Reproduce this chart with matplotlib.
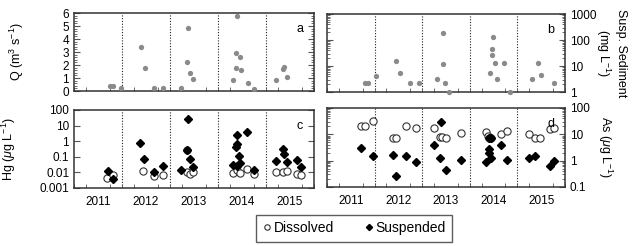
import matplotlib
matplotlib.use('Agg')
import matplotlib.pyplot as plt
import numpy as np
from matplotlib.ticker import MultipleLocator, FixedLocator, NullFormatter

plt.rcParams['font.family'] = ['Liberation Sans', 'DejaVu Sans']
plt.rcParams['mathtext.fontset'] = 'custom'
plt.rcParams['mathtext.rm'] = 'Liberation Sans'
plt.rcParams['mathtext.it'] = 'Liberation Sans:italic'
plt.rcParams['font.size'] = 8.5

# --- data (decimal year, value) ---
years = [2011, 2012, 2013, 2014, 2015]
year_labels = ['2011', '2012', '2013', '2014', '2015']

q_t = [2011.74, 2011.81, 2011.97, 2012.39, 2012.47, 2012.67, 2012.86, 2013.24, 2013.37, 2013.35,
       2013.42, 2013.49, 2014.40, 2014.38, 2014.46, 2014.38, 2014.49, 2014.32, 2014.62, 2014.76,
       2015.21, 2015.35, 2015.38, 2015.44]
q_v = [0.35, 0.35, 0.2, 3.4, 1.8, 0.25, 0.2, 0.2, 4.85, 2.2,
       1.4, 0.9, 5.8, 2.9, 2.65, 1.8, 1.65, 0.85, 0.6, 0.15,
       0.85, 1.7, 1.85, 1.1]

ss_t = [2011.79, 2011.86, 2012.02, 2012.46, 2012.53, 2012.74, 2012.93, 2013.32, 2013.44, 2013.44,
        2013.48, 2013.56, 2014.49, 2014.47, 2014.47, 2014.54, 2014.72, 2014.42, 2014.58, 2014.85,
        2015.31, 2015.44, 2015.49, 2015.76]
ss_v = [2.2, 2.2, 4.2, 16, 5.2, 2.2, 2.2, 3.3, 185, 12,
        2.2, 1.0, 125, 46, 27, 12.5, 13.5, 5.2, 3.3, 1.0,
        3.3, 12.5, 4.5, 2.2]

hg_diss_t = [2011.68, 2011.81, 2012.44, 2012.67, 2012.86, 2013.36, 2013.35, 2013.42, 2013.49,
             2014.32, 2014.40, 2014.47, 2014.61, 2014.75,
             2015.21, 2015.36, 2015.43, 2015.65, 2015.74]
hg_diss_v = [0.0043, 0.007, 0.012, 0.0055, 0.007, 0.29, 0.011, 0.008, 0.01,
             0.0097, 0.014, 0.0097, 0.017, 0.0073,
             0.011, 0.011, 0.012, 0.0078, 0.0063]
hg_susp_t = [2011.71, 2011.81, 2012.375, 2012.46, 2012.67, 2012.86,
             2013.24, 2013.37, 2013.36, 2013.42, 2013.49,
             2014.40, 2014.39, 2014.38, 2014.44, 2014.47, 2014.32, 2014.40, 2014.61, 2014.75,
             2015.21, 2015.35, 2015.375, 2015.43, 2015.65, 2015.74]
hg_susp_v = [0.012, 0.0037, 0.75, 0.07, 0.011, 0.026,
             0.014, 26, 0.29, 0.07, 0.023,
             2.5, 0.62, 0.45, 0.115, 0.042, 0.03, 0.026, 3.7, 0.014,
             0.055, 0.33, 0.16, 0.047, 0.06, 0.021]

as_diss_t = [2011.71, 2011.79, 2011.97, 2012.39, 2012.46, 2012.67, 2012.86,
             2013.25, 2013.37, 2013.42, 2013.50, 2013.82,
             2014.35, 2014.38, 2014.40, 2014.45, 2014.65, 2014.78,
             2015.24, 2015.38, 2015.47, 2015.69, 2015.78]
as_diss_v = [21, 21, 33, 7.5, 7.5, 20, 18,
             18, 8, 8, 7.5, 11.7,
             12.4, 9, 7, 7, 10.7, 13.5,
             10.7, 7, 7.5, 15.8, 17]
as_susp_t = [2011.71, 2011.97, 2012.39, 2012.46, 2012.67, 2012.86,
             2013.25, 2013.39, 2013.37, 2013.50, 2013.82,
             2014.35, 2014.40, 2014.44, 2014.40, 2014.41, 2014.45, 2014.65, 2014.78,
             2015.24, 2015.38, 2015.69, 2015.78]
as_susp_v = [3.1, 1.45, 1.7, 0.26, 1.55, 0.85,
             4.1, 29, 1.25, 0.45, 1.1,
             0.85, 7.5, 7, 2.8, 1.95, 1.25, 3.8, 1.1,
             1.25, 1.45, 0.6, 0.93]

fig = plt.figure(figsize=(6.38, 2.46), dpi=100)
ax_a = fig.add_axes([0.116, 0.630, 0.376, 0.317])
ax_c = fig.add_axes([0.116, 0.236, 0.376, 0.317])
ax_b = fig.add_axes([0.5125, 0.626, 0.373, 0.317])
ax_d = fig.add_axes([0.5125, 0.240, 0.373, 0.321])

gray = '#8a8a8a'


def style_x(ax, show_labels):
    ax.set_xlim(2011.0, 2016.0)
    ax.xaxis.set_major_locator(FixedLocator([y + 0.5 for y in years]))
    ax.xaxis.set_minor_locator(MultipleLocator(0.25))
    ax.tick_params(axis='x', which='major', length=0, pad=6)
    ax.tick_params(axis='x', which='minor', length=3, direction='in', color='#555555')
    if show_labels:
        ax.set_xticklabels(year_labels)
    else:
        ax.set_xticklabels([])
    for y in years[1:]:
        ax.axvline(y, color='#222222', linestyle=(0, (1, 1.5)), linewidth=0.8, zorder=1)
    for s in ax.spines.values():
        s.set_linewidth(1.1)
        s.set_color('#333333')


def style_y(ax, right=False):
    ax.tick_params(axis='y', which='both', direction='in', left=True, right=True, color='#555555')
    ax.tick_params(axis='y', which='major', length=4)
    ax.tick_params(axis='y', which='minor', length=2)
    if right:
        ax.yaxis.set_label_position('right')
        ax.tick_params(axis='y', labelleft=False, labelright=True)


def panel_letter(ax, s):
    ax.text(0.955, 0.8, s, transform=ax.transAxes, ha='right', va='center', fontsize=9)


# panel a
ax_a.plot(q_t, q_v, 'o', color=gray, markersize=3.8, markeredgewidth=0, clip_on=False, zorder=3)
ax_a.set_ylim(0, 6)
ax_a.yaxis.set_major_locator(MultipleLocator(1))
ax_a.yaxis.set_minor_locator(MultipleLocator(0.2))
style_x(ax_a, False)
style_y(ax_a)
ax_a.set_ylabel('Q (m$^3$ s$^{-1}$)', fontsize=9)
ax_a.yaxis.set_label_coords(-0.2, 0.5)
panel_letter(ax_a, 'a')

# panel b
ax_b.plot(ss_t, ss_v, 'o', color=gray, markersize=3.8, markeredgewidth=0, clip_on=False, zorder=3)
ax_b.set_yscale('log')
ax_b.set_ylim(1, 1000)
ax_b.set_yticks([1, 10, 100, 1000])
ax_b.set_yticklabels(['1', '10', '100', '1000'])
ax_b.yaxis.set_minor_formatter(NullFormatter())
style_x(ax_b, False)
style_y(ax_b, right=True)
ax_b.set_ylabel('Susp. Sediment\n(mg L$^{-1}$)', fontsize=9, rotation=270, labelpad=22,
                multialignment='center')
panel_letter(ax_b, 'b')

# panel c
ax_c.plot(hg_diss_t, hg_diss_v, 'o', markerfacecolor='white', markeredgecolor='#333333',
          markersize=5.2, markeredgewidth=0.8, clip_on=False, zorder=3, label='Dissolved')
ax_c.plot(hg_susp_t, hg_susp_v, 'D', color='black', markersize=4.2, clip_on=False, zorder=4,
          label='Suspended')
ax_c.set_yscale('log')
ax_c.set_ylim(0.001, 100)
ax_c.set_yticks([0.001, 0.01, 0.1, 1, 10, 100])
ax_c.set_yticklabels(['0.001', '0.01', '0.1', '1', '10', '100'])
ax_c.yaxis.set_minor_formatter(NullFormatter())
style_x(ax_c, True)
style_y(ax_c)
ax_c.set_ylabel('Hg ($\\mu$g L$^{-1}$)', fontsize=9)
ax_c.yaxis.set_label_coords(-0.235, 0.5)
panel_letter(ax_c, 'c')

# panel d
ax_d.plot(as_diss_t, as_diss_v, 'o', markerfacecolor='white', markeredgecolor='#333333',
          markersize=5.2, markeredgewidth=0.8, clip_on=False, zorder=3)
ax_d.plot(as_susp_t, as_susp_v, 'D', color='black', markersize=4.2, clip_on=False, zorder=4)
ax_d.set_yscale('log')
ax_d.set_ylim(0.1, 100)
ax_d.set_yticks([0.1, 1, 10, 100])
ax_d.set_yticklabels(['0.1', '1', '10', '100'])
ax_d.yaxis.set_minor_formatter(NullFormatter())
style_x(ax_d, True)
style_y(ax_d, right=True)
ax_d.set_ylabel('As ($\\mu$g L$^{-1}$)', fontsize=9, rotation=270, labelpad=18)
panel_letter(ax_d, 'd')

h, l = ax_c.get_legend_handles_labels()
leg = fig.legend(h, l, loc='center', bbox_to_anchor=(0.555, 0.072), ncol=2, fontsize=10,
                 frameon=True, fancybox=False, edgecolor='#333333', markerscale=0.75,
                 handlelength=0.6, handletextpad=0.2, columnspacing=2.2,
                 borderpad=0.45)
leg.get_frame().set_linewidth(1.0)

fig.savefig('out.png', dpi=100)
